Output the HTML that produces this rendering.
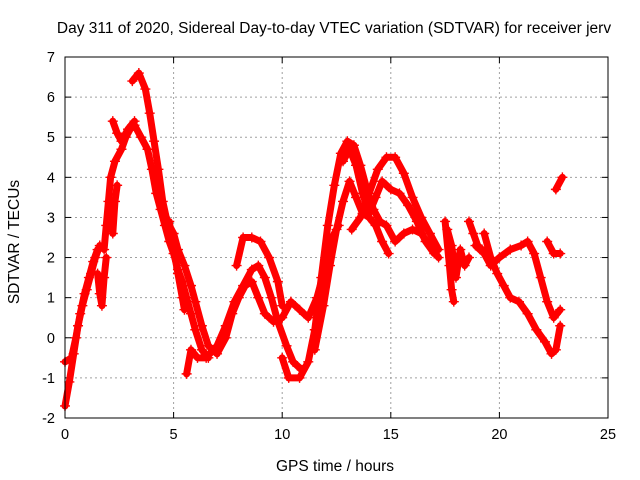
<!DOCTYPE html>
<html><head><meta charset="utf-8"><style>
body{margin:0;background:#fff}
svg{display:block;font-family:"Liberation Sans",sans-serif}
</style></head><body>
<svg id="chart" width="640" height="480">
<text x="334" y="33" font-size="15.5" text-anchor="middle">Day 311 of 2020, Sidereal Day-to-day VTEC variation (SDTVAR) for receiver jerv</text>
<text x="335" y="471" font-size="15.5" text-anchor="middle">GPS time / hours</text>
<text x="19" y="242" font-size="15.5" text-anchor="middle" transform="rotate(-90 19 242)">SDTVAR / TECUs</text>
<g id="grid"></g><g id="ticks"></g><g id="marks"></g>
<rect x="65" y="57" width="543" height="361" fill="none" stroke="#000" stroke-width="1"/>
</svg>
<script>
const xTicks=[0,5,10,15,20,25];
const yTicks=[-2,-1,0,1,2,3,4,5,6,7];
const t1=[[0,-1.7],[0.2,-1.1],[0.4,-0.4],[0.6,0.3],[0.8,0.8],[1.0,1.2],[1.2,1.6],[1.4,2.0],[1.6,2.3]];
const t2=[[0,-0.6],[0.3,-0.5],[0.5,0],[0.7,0.6],[0.9,1.1],[1.1,1.5],[1.3,1.9],[1.5,2.2]];
const t3=[[1.8,2.2],[1.9,2.8],[2.0,3.4],[2.1,4.0],[2.3,4.4],[2.6,4.7],[2.8,5.0],[3.0,5.2],[3.2,5.3],[3.5,5.0],[3.8,4.7],[4.0,4.2],[4.2,3.6],[4.4,3.2],[4.6,2.8],[4.8,2.4],[5.0,2.1],[5.2,1.7],[5.4,1.4],[5.6,1.0],[5.8,0.6],[6.0,0.2],[6.3,-0.3],[6.6,-0.5]];
const t4=[[2.2,5.4],[2.4,5.1],[2.6,4.9],[2.9,5.2],[3.2,5.4]];
const t5=[[3.1,6.4],[3.4,6.6],[3.7,6.2],[3.9,5.6],[4.1,4.9],[4.3,4.2],[4.5,3.4],[4.7,2.9],[5.0,2.6],[5.2,2.2],[5.5,1.8],[5.8,1.3],[6.0,0.9],[6.3,0.3],[6.6,-0.2],[7.0,-0.4],[7.4,0.0],[7.7,0.6],[8.0,1.0],[8.3,1.3],[8.6,1.4],[8.9,1.0],[9.2,0.6],[9.6,0.4],[10.0,0.5],[10.4,0.9],[10.8,0.7],[11.2,0.5],[11.6,1.0],[12.0,1.8],[12.3,2.5],[12.6,2.8]];
const t6=[[5.6,-0.9],[5.8,-0.3],[6.1,-0.5],[6.5,-0.5],[7.0,-0.2],[7.4,0.3],[7.8,0.9],[8.2,1.3],[8.6,1.7],[8.9,1.8],[9.2,1.5],[9.5,1.0],[9.8,0.4],[10.2,-0.2],[10.5,-0.6],[10.9,-0.8]];
const t7=[[7.9,1.8],[8.2,2.5],[8.6,2.5],[9.0,2.4],[9.4,2.0],[9.8,1.4],[10.0,0.8]];
const t8=[[10.0,-0.5],[10.3,-1.0],[10.8,-1.0],[11.2,-0.6],[11.5,0.2],[11.8,1.5],[12.1,2.8],[12.4,3.8],[12.7,4.6],[13.0,4.9],[13.3,4.8],[13.6,4.3],[13.9,3.7],[14.2,3.2],[14.5,2.9],[14.8,2.8],[15.2,2.4],[15.6,2.6],[16.0,2.7],[16.4,2.6],[16.8,2.3],[17.2,2.0]];
const t9=[[11.5,-0.3],[11.9,0.8],[12.2,1.8],[12.5,2.7],[12.8,3.4],[13.1,3.9],[13.4,3.5],[13.7,3.1],[14.0,3.0],[14.3,2.8],[14.6,2.4],[14.9,2.1]];
const t10=[[12.8,4.4],[13.1,4.7],[13.4,4.3],[13.7,3.6],[14.0,3.1],[14.3,3.5],[14.6,3.9],[15.0,3.7],[15.4,3.6],[15.8,3.3],[16.2,2.9],[16.6,2.4],[17.0,2.1]];
const t11=[[13.2,2.7],[13.6,3.0],[14.0,3.6],[14.4,4.2],[14.8,4.5],[15.2,4.5],[15.6,4.1],[16.0,3.5],[16.4,3.0],[16.8,2.6],[17.2,2.2]];
const t12=[[17.6,2.7],[17.8,2.3],[18.0,1.5],[18.2,2.2],[18.4,1.8],[18.6,2.0]];
const t13=[[17.5,2.9],[17.7,1.8],[17.8,1.2],[17.9,0.9]];
const t14=[[19.3,2.6],[19.6,2.0],[19.9,1.6],[20.2,1.3],[20.5,1.0],[20.9,0.9],[21.3,0.6],[21.7,0.2],[22.1,-0.1],[22.4,-0.4],[22.6,-0.3],[22.8,0.3]];
const t15=[[18.9,2.3],[19.3,2.1],[19.6,1.8],[20.0,2.0],[20.5,2.2],[21.0,2.3],[21.3,2.4],[21.6,2.1],[21.9,1.5],[22.2,0.9],[22.5,0.5],[22.8,0.7]];
const t17=[[22.2,2.4],[22.5,2.1],[22.8,2.1]];
const t18=[[22.6,3.7],[22.9,4.0]];
const t19=[[18.6,2.9],[18.8,2.6],[19.0,2.3],[19.2,2.2]];
const t20=[[1.5,1.6],[1.6,1.1],[1.7,0.8],[1.8,1.5],[1.9,2.0]];
const t21=[[2.1,3.0],[2.2,2.6],[2.3,3.4],[2.4,3.8]];
const t22=[[4.8,2.9],[5.0,2.2],[5.2,1.6],[5.4,1.0],[5.5,0.7]];
const tracks=[t1,t2,t3,t4,t5,t6,t7,t8,t9,t10,t11,t12,t13,t14,t15,t17,t18,t19,t20,t21,t22];

const NS="http://www.w3.org/2000/svg";
const X0=65,X1=608,Y0=418,Y1=57;
const sx=v=>X0+(v-0)/(25-0)*(X1-X0);
const sy=v=>Y0-(v+2)/(7+2)*(Y0-Y1);
function mk(tag,attrs,parent){const e=document.createElementNS(NS,tag);for(const k in attrs)e.setAttribute(k,attrs[k]);parent.appendChild(e);return e;}
const grid=document.getElementById('grid'),ticks=document.getElementById('ticks'),marks=document.getElementById('marks');
xTicks.forEach(v=>{const x=sx(v);
 if(v>0&&v<25){const g=mk('line',{x1:x,x2:x,y1:Y1,y2:Y0,stroke:'#a0a0a0','stroke-dasharray':'2,3'},grid);
 
 }
 mk('line',{x1:x,x2:x,y1:Y0,y2:Y0-6,stroke:'#000'},ticks);mk('line',{x1:x,x2:x,y1:Y1,y2:Y1+6,stroke:'#000'},ticks);
 const t=mk('text',{x:x,y:Y0+21,'font-size':14.5,'text-anchor':'middle'},ticks);t.textContent=v;
 
 });
yTicks.forEach(v=>{const y=sy(v);
 if(v>-2&&v<7){const g=mk('line',{x1:X0,x2:X1,y1:y,y2:y,stroke:'#a0a0a0','stroke-dasharray':'2,3'},grid);
 
 }
 mk('line',{x1:X0,x2:X0+6,y1:y,y2:y,stroke:'#000'},ticks);mk('line',{x1:X1,x2:X1-6,y1:y,y2:y,stroke:'#000'},ticks);
 const t=mk('text',{x:X0-10,y:y+5,'font-size':14.5,'text-anchor':'end'},ticks);t.textContent=v;
 
 });
tracks.forEach((tr,i)=>{
 const g=mk('g',{},marks);
 
 
 mk('polyline',{points:tr.map(p=>sx(p[0])+','+sy(p[1])).join(' '),fill:'none',stroke:'#ff0000','stroke-width':7,'stroke-linejoin':'round','stroke-linecap':'round'},g);
 let d='';tr.forEach(p=>{const x=sx(p[0]),y=sy(p[1]);d+=`M${x-5},${y}h10M${x},${y-5}v10`;});
 mk('path',{d:d,stroke:'#ff0000','stroke-width':1.4},g);
});
</script>
</body></html>
